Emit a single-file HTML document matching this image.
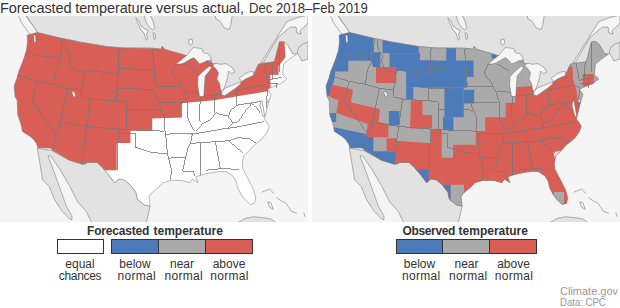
<!DOCTYPE html>
<html><head><meta charset="utf-8"><style>
html,body{margin:0;padding:0;background:#fff;width:620px;height:308px;overflow:hidden;position:relative;font-family:"Liberation Sans",sans-serif;color:#333}
.t{position:absolute;white-space:nowrap}
.box{position:absolute;box-sizing:border-box;border:1px solid #333}
.lab{position:absolute;font-size:12px;line-height:12px;text-align:center;width:60px}
</style></head><body>
<svg width="620" height="308" viewBox="0 0 620 308" style="position:absolute;left:0;top:0">
<defs><clipPath id="cl"><polygon points="27.2,35.1 37.2,32.5 60.4,38.1 80.5,42.2 106.7,46.6 124.0,48.0 152.2,48.2 161.2,49.2 162.2,46.2 164.3,49.2 174.3,52.2 179.4,53.5 187.5,56.0 200.0,57.0 214.0,64.0 228.0,66.0 225.0,75.0 223.0,89.8 223.0,91.0 232.0,89.0 242.0,82.0 246.0,76.0 253.9,74.4 258.5,64.1 274.4,61.8 279.6,41.7 283.5,41.5 287.4,44.6 292.3,53.4 296.2,54.4 289.3,59.2 283.5,64.1 282.5,74.8 286.9,78.9 281.2,83.4 267.5,89.1 271.0,94.6 268.5,102.7 266.1,112.4 264.5,118.9 265.5,121.0 266.1,121.0 269.4,126.5 267.0,132.2 262.9,137.9 256.4,143.5 254.7,144.5 249.6,150.3 243.8,156.0 242.3,163.0 242.8,169.0 247.8,178.4 253.5,189.8 255.7,197.7 254.6,203.4 250.0,204.5 244.4,198.9 241.0,194.3 237.5,187.5 236.4,181.8 233.0,176.1 226.2,171.6 219.4,171.6 212.0,172.5 203.0,174.5 195.8,176.9 198.1,182.7 192.3,179.2 189.9,182.7 181.7,180.4 171.2,180.4 163.0,182.7 158.4,187.4 151.4,193.2 149.0,196.7 150.2,206.1 144.4,204.9 137.3,199.1 136.1,192.6 130.3,184.8 124.4,179.9 118.6,178.9 114.7,182.8 108.9,175.0 104.0,169.2 97.2,162.4 86.5,162.4 86.5,163.4 82.6,164.3 69.4,160.2 52.3,150.1 50.3,148.1 37.9,147.7 36.6,143.8 33.4,139.2 29.5,136.0 22.3,131.4 21.7,126.9 19.7,120.4 17.8,115.2 17.1,100.1 15.1,97.1 14.1,86.0 17.0,78.0 18.5,72.0 21.0,66.0 24.0,58.0 26.5,50.0 27.5,42.0"/></clipPath><clipPath id="cr"><polygon points="27.2,35.1 37.2,32.5 60.4,38.1 80.5,42.2 106.7,46.6 124.0,48.0 152.2,48.2 161.2,49.2 162.2,46.2 164.3,49.2 174.3,52.2 179.4,53.5 187.5,56.0 200.0,57.0 214.0,64.0 228.0,66.0 225.0,75.0 223.0,89.8 223.0,91.0 232.0,89.0 242.0,82.0 246.0,76.0 253.9,74.4 258.5,64.1 274.4,61.8 279.6,41.7 283.5,41.5 287.4,44.6 292.3,53.4 296.2,54.4 289.3,59.2 283.5,64.1 282.5,74.8 286.9,78.9 281.2,83.4 267.5,89.1 271.0,94.6 268.5,102.7 266.1,112.4 264.5,118.9 265.5,121.0 266.1,121.0 269.4,126.5 267.0,132.2 262.9,137.9 256.4,143.5 254.7,144.5 249.6,150.3 243.8,156.0 242.3,163.0 242.8,169.0 247.8,178.4 253.5,189.8 255.7,197.7 254.6,203.4 250.0,204.5 244.4,198.9 241.0,194.3 237.5,187.5 236.4,181.8 233.0,176.1 226.2,171.6 219.4,171.6 212.0,172.5 203.0,174.5 195.8,176.9 198.1,182.7 192.3,179.2 189.9,182.7 181.7,180.4 171.2,180.4 163.0,182.7 158.4,187.4 151.4,193.2 149.0,196.7 150.2,206.1 144.4,204.9 137.3,199.1 136.1,192.6 130.3,184.8 124.4,179.9 118.6,178.9 114.7,182.8 108.9,175.0 104.0,169.2 97.2,162.4 86.5,162.4 86.5,163.4 82.6,164.3 69.4,160.2 52.3,150.1 50.3,148.1 37.9,147.7 36.6,143.8 33.4,139.2 29.5,136.0 22.3,131.4 21.7,126.9 19.7,120.4 17.8,115.2 17.1,100.1 15.1,97.1 14.1,86.0 17.0,78.0 18.5,72.0 21.0,66.0 24.0,58.0 26.5,50.0 27.5,42.0"/></clipPath>
<clipPath id="pl"><rect x="0" y="16" width="308" height="206"/></clipPath></defs>
<g clip-path="url(#pl)"><g transform="translate(0,0)"><rect x="0" y="16" width="308" height="206" fill="#f5f5f5"/><polygon points="16.5,10.0 316.0,10.0 316.0,40.0 308.0,44.0 296.2,54.4 292.3,53.4 287.4,44.6 283.5,41.5 279.6,41.7 274.4,61.8 258.5,64.1 253.9,74.4 246.0,76.0 242.0,82.0 232.0,89.0 223.0,91.0 223.0,89.8 225.0,75.0 228.0,66.0 214.0,64.0 200.0,57.0 187.5,56.0 179.4,53.5 174.3,52.2 164.3,49.2 162.2,46.2 161.2,49.2 152.2,48.2 124.0,48.0 106.7,46.6 80.5,42.2 60.4,38.1 37.2,32.5 26.0,15.0 26.0,10.0" fill="#e2e2e2" stroke="#666" stroke-width="0.5"/><polygon points="261.0,62.5 270.0,48.0 276.9,37.4 286.9,21.7 298.3,17.4 308.0,15.0 308.0,23.0 300.0,31.0 301.0,34.0 297.0,33.0 296.0,27.0 289.7,27.4 278.3,37.4 271.0,49.0 263.0,63.0" fill="#f5f5f5" stroke="#666" stroke-width="0.5"/><polygon points="299.0,47.0 303.0,44.0 308.0,42.0 308.0,59.0 302.0,61.0 297.0,52.0" fill="#e2e2e2" stroke="#666" stroke-width="0.5"/><polygon points="37.3,148.0 51.9,150.6 69.4,160.2 82.6,164.3 86.5,163.4 86.5,162.4 97.2,162.4 104.0,169.2 108.9,175.0 114.7,182.8 118.6,178.9 124.4,179.9 130.3,184.8 136.1,192.6 137.3,199.1 144.4,204.9 150.2,206.1 147.2,219.3 145.5,223.0 91.8,223.0 86.5,211.8 77.2,201.2 69.2,185.2 59.9,169.3 50.6,156.0 47.9,156.0 50.6,162.6 55.9,177.2 61.2,191.9 66.5,206.5 71.9,215.8 71.9,219.8 69.2,218.5 62.6,211.8 54.6,199.8 49.3,186.5 42.6,179.9 40.0,164.0" fill="#e2e2e2" stroke="#666" stroke-width="0.5"/><polygon points="236.9,223.0 245.0,218.5 253.3,216.8 262.0,217.5 271.0,218.9 276.5,223.0" fill="#e2e2e2" stroke="#666" stroke-width="0.5"/><polygon points="144.0,15.0 150.0,15.0 153.0,21.0 154.5,28.5 152.5,30.0 149.5,27.0 146.0,22.0" fill="#f5f5f5" stroke="#666" stroke-width="0.5"/><polygon points="189.0,39.5 192.0,39.0 192.8,43.0 190.5,45.2 188.8,43.0" fill="#f5f5f5" stroke="#666" stroke-width="0.5"/><polygon points="215.6,15.0 232.3,15.0 230.7,25.5 229.1,29.5 224.3,27.9 219.5,20.8 215.6,18.4" fill="#f5f5f5" stroke="#666" stroke-width="0.5"/><polygon points="267.6,201.8 271.0,203.0 273.1,209.3 269.5,207.0" fill="#f5f5f5" stroke="#666" stroke-width="0.5"/><polygon points="153.3,32.5 155.2,34.0 155.5,38.5 154.0,39.5 153.5,36.0" fill="#f5f5f5" stroke="#666" stroke-width="0.5"/><polygon points="135.8,18.0 139.0,21.0 141.0,26.0 145.0,29.0 148.5,30.6 146.5,34.0 147.5,38.0 146.6,40.4 145.5,38.0 144.0,33.0 141.0,30.0 138.0,24.0" fill="#f5f5f5" stroke="#666" stroke-width="0.5"/><polygon points="18.3,15.0 25.5,15.0 30.0,22.0 36.0,30.0 37.2,33.0 35.5,38.0 33.0,37.0 27.5,31.0 21.0,22.0" fill="#f5f5f5" stroke="#666" stroke-width="0.5"/><polyline points="261.5,192.3 269.7,188.9 273.7,193.6" fill="none" stroke="#666" stroke-width="0.5"/><polyline points="276.5,197.0 280.6,200.5 286.0,203.2 291.5,211.4 297.0,213.4" fill="none" stroke="#666" stroke-width="0.5"/><polyline points="303.8,212.7 305.0,216.8" fill="none" stroke="#666" stroke-width="0.5"/><g clip-path="url(#cl)"><rect x="0" y="16" width="308" height="206" fill="#ffffff"/><polygon points="0.0,16.0 279.4,16.0 279.4,41.7 284.5,41.7 285.4,57.3 278.6,66.1 278.6,74.8 270.2,75.0 270.6,87.7 269.5,90.8 256.0,93.3 237.1,96.3 214.4,100.3 200.3,101.5 183.5,103.0 181.9,104.0 181.9,117.5 152.2,118.5 152.2,130.7 130.4,130.7 130.4,143.1 116.7,143.1 116.7,170.2 100.0,170.2 100.0,240.0 0.0,240.0" fill="#d95f56"/></g><polygon points="27.2,35.1 37.2,32.5 60.4,38.1 80.5,42.2 106.7,46.6 124.0,48.0 152.2,48.2 161.2,49.2 162.2,46.2 164.3,49.2 174.3,52.2 179.4,53.5 187.5,56.0 200.0,57.0 214.0,64.0 228.0,66.0 225.0,75.0 223.0,89.8 223.0,91.0 232.0,89.0 242.0,82.0 246.0,76.0 253.9,74.4 258.5,64.1 274.4,61.8 279.6,41.7 283.5,41.5 287.4,44.6 292.3,53.4 296.2,54.4 289.3,59.2 283.5,64.1 282.5,74.8 286.9,78.9 281.2,83.4 267.5,89.1 271.0,94.6 268.5,102.7 266.1,112.4 264.5,118.9 265.5,121.0 266.1,121.0 269.4,126.5 267.0,132.2 262.9,137.9 256.4,143.5 254.7,144.5 249.6,150.3 243.8,156.0 242.3,163.0 242.8,169.0 247.8,178.4 253.5,189.8 255.7,197.7 254.6,203.4 250.0,204.5 244.4,198.9 241.0,194.3 237.5,187.5 236.4,181.8 233.0,176.1 226.2,171.6 219.4,171.6 212.0,172.5 203.0,174.5 195.8,176.9 198.1,182.7 192.3,179.2 189.9,182.7 181.7,180.4 171.2,180.4 163.0,182.7 158.4,187.4 151.4,193.2 149.0,196.7 150.2,206.1 144.4,204.9 137.3,199.1 136.1,192.6 130.3,184.8 124.4,179.9 118.6,178.9 114.7,182.8 108.9,175.0 104.0,169.2 97.2,162.4 86.5,162.4 86.5,163.4 82.6,164.3 69.4,160.2 52.3,150.1 50.3,148.1 37.9,147.7 36.6,143.8 33.4,139.2 29.5,136.0 22.3,131.4 21.7,126.9 19.7,120.4 17.8,115.2 17.1,100.1 15.1,97.1 14.1,86.0 17.0,78.0 18.5,72.0 21.0,66.0 24.0,58.0 26.5,50.0 27.5,42.0" fill="none" stroke="#777" stroke-width="0.5"/><polyline points="194.5,131.2 201.0,124.5 205.0,122.3 209.5,120.6 213.5,116.0 215.8,112.6 219.8,114.3 225.5,115.5 228.3,116.6 231.1,109.8 235.1,106.9 236.3,105.2" fill="none" stroke="#777" stroke-width="0.8" shape-rendering="crispEdges"/><polyline points="228.3,116.6 232.8,122.8 238.0,121.7 241.4,117.7 243.6,113.2 249.3,106.4 250.5,103.5" fill="none" stroke="#777" stroke-width="0.8" shape-rendering="crispEdges"/><polyline points="236.3,105.2 261.8,101.3" fill="none" stroke="#777" stroke-width="0.8" shape-rendering="crispEdges"/><polyline points="236.3,88.5 236.3,105.2" fill="none" stroke="#777" stroke-width="0.8" shape-rendering="crispEdges"/><polyline points="214.7,94.3 214.7,112.6" fill="none" stroke="#777" stroke-width="0.8" shape-rendering="crispEdges"/><polyline points="232.8,122.8 227.7,128.0" fill="none" stroke="#777" stroke-width="0.8" shape-rendering="crispEdges"/><polyline points="190.5,134.2 219.8,129.3 234.0,127.5 264.1,121.7" fill="none" stroke="#777" stroke-width="0.8" shape-rendering="crispEdges"/><polyline points="250.5,103.5 254.0,106.0 257.0,108.0 260.0,113.0" fill="none" stroke="#777" stroke-width="0.8" shape-rendering="crispEdges"/><polyline points="27.2,48.1 32.2,53.1 35.2,55.2 54.3,57.2 60.4,59.2" fill="none" stroke="#777" stroke-width="0.8" shape-rendering="crispEdges"/><polyline points="62.4,37.5 60.4,59.2" fill="none" stroke="#777" stroke-width="0.8" shape-rendering="crispEdges"/><polyline points="60.4,59.2 58.4,64.2 55.4,70.3 53.3,84.3" fill="none" stroke="#777" stroke-width="0.8" shape-rendering="crispEdges"/><polyline points="65.4,39.5 66.4,50.1 70.5,56.2 69.4,62.2 74.5,71.3 83.5,72.3 85.5,70.3" fill="none" stroke="#777" stroke-width="0.8" shape-rendering="crispEdges"/><polyline points="85.5,70.3 118.8,74.3" fill="none" stroke="#777" stroke-width="0.8" shape-rendering="crispEdges"/><polyline points="84.5,71.3 81.5,90.1" fill="none" stroke="#777" stroke-width="0.8" shape-rendering="crispEdges"/><polyline points="17.1,75.3 37.2,81.3 53.3,84.3 66.4,88.1 81.5,90.1" fill="none" stroke="#777" stroke-width="0.8" shape-rendering="crispEdges"/><polyline points="37.2,81.3 32.2,101.1 55.4,133.3 56.4,140.4 52.3,150.1" fill="none" stroke="#777" stroke-width="0.8" shape-rendering="crispEdges"/><polyline points="67.4,88.6 60.4,122.3 60.4,127.0 55.4,133.3" fill="none" stroke="#777" stroke-width="0.8" shape-rendering="crispEdges"/><polyline points="60.4,122.3 85.5,126.3 118.8,129.3 164.3,131.2" fill="none" stroke="#777" stroke-width="0.8" shape-rendering="crispEdges"/><polyline points="81.5,90.1 81.5,97.1 90.6,99.1 126.1,101.5" fill="none" stroke="#777" stroke-width="0.8" shape-rendering="crispEdges"/><polyline points="90.6,99.1 86.6,126.3 84.5,142.0 82.6,164.3" fill="none" stroke="#777" stroke-width="0.8" shape-rendering="crispEdges"/><polyline points="119.1,48.1 118.1,72.2 117.0,88.3 116.5,101.2" fill="none" stroke="#777" stroke-width="0.8" shape-rendering="crispEdges"/><polyline points="126.1,101.5 126.1,130.2" fill="none" stroke="#777" stroke-width="0.8" shape-rendering="crispEdges"/><polyline points="126.1,109.1 161.3,110.1" fill="none" stroke="#777" stroke-width="0.8" shape-rendering="crispEdges"/><polyline points="119.0,129.5 118.0,143.0 117.0,170.2" fill="none" stroke="#777" stroke-width="0.8" shape-rendering="crispEdges"/><polyline points="118.5,133.2 135.3,133.2 135.3,147.0 142.2,149.3 150.4,152.1 167.5,154.1" fill="none" stroke="#777" stroke-width="0.8" shape-rendering="crispEdges"/><polyline points="165.4,131.2 167.5,154.1" fill="none" stroke="#777" stroke-width="0.8" shape-rendering="crispEdges"/><polyline points="167.5,154.1 168.5,158.1 171.5,170.2 170.5,180.3" fill="none" stroke="#777" stroke-width="0.8" shape-rendering="crispEdges"/><polyline points="168.5,158.1 185.6,157.1" fill="none" stroke="#777" stroke-width="0.8" shape-rendering="crispEdges"/><polyline points="185.6,157.1 182.6,171.2 193.7,171.2 194.7,176.2" fill="none" stroke="#777" stroke-width="0.8" shape-rendering="crispEdges"/><polyline points="201.0,143.0 200.7,175.2" fill="none" stroke="#777" stroke-width="0.8" shape-rendering="crispEdges"/><polyline points="215.5,141.5 220.5,168.2" fill="none" stroke="#777" stroke-width="0.8" shape-rendering="crispEdges"/><polyline points="206.4,170.2 220.5,168.8 238.6,169.2" fill="none" stroke="#777" stroke-width="0.8" shape-rendering="crispEdges"/><polyline points="227.5,140.8 242.6,153.3" fill="none" stroke="#777" stroke-width="0.8" shape-rendering="crispEdges"/><polyline points="190.5,143.3 227.5,140.8" fill="none" stroke="#777" stroke-width="0.8" shape-rendering="crispEdges"/><polyline points="227.5,140.8 237.7,137.5 249.1,138.7 256.4,143.5" fill="none" stroke="#777" stroke-width="0.8" shape-rendering="crispEdges"/><polyline points="165.4,134.2 189.5,133.2 192.5,134.2" fill="none" stroke="#777" stroke-width="0.8" shape-rendering="crispEdges"/><polyline points="192.5,134.2 190.5,143.3 188.5,146.3 185.6,157.1" fill="none" stroke="#777" stroke-width="0.8" shape-rendering="crispEdges"/><polyline points="161.3,110.1 164.3,117.1 164.3,131.2" fill="none" stroke="#777" stroke-width="0.8" shape-rendering="crispEdges"/><polyline points="159.0,103.0 185.5,102.0" fill="none" stroke="#777" stroke-width="0.8" shape-rendering="crispEdges"/><polyline points="155.3,92.3 158.3,102.0 161.3,110.1" fill="none" stroke="#777" stroke-width="0.8" shape-rendering="crispEdges"/><polyline points="117.0,88.3 150.3,89.3 155.3,92.3" fill="none" stroke="#777" stroke-width="0.8" shape-rendering="crispEdges"/><polyline points="118.1,68.2 154.3,70.2" fill="none" stroke="#777" stroke-width="0.8" shape-rendering="crispEdges"/><polyline points="152.3,49.1 153.3,58.1 154.3,70.2 155.3,86.3" fill="none" stroke="#777" stroke-width="0.8" shape-rendering="crispEdges"/><polyline points="155.3,86.3 180.5,86.3" fill="none" stroke="#777" stroke-width="0.8" shape-rendering="crispEdges"/><polyline points="176.4,64.2 172.4,72.2 174.4,77.2 179.4,82.3 180.5,86.3" fill="none" stroke="#777" stroke-width="0.8" shape-rendering="crispEdges"/><polyline points="180.5,86.3 184.5,92.3 185.5,98.4 187.5,102.0 187.5,117.1 191.5,126.2 194.5,131.2" fill="none" stroke="#777" stroke-width="0.8" shape-rendering="crispEdges"/><polyline points="184.5,64.2 196.6,71.2" fill="none" stroke="#777" stroke-width="0.8" shape-rendering="crispEdges"/><polyline points="184.5,91.3 198.6,92.3" fill="none" stroke="#777" stroke-width="0.8" shape-rendering="crispEdges"/><polyline points="200.6,96.4 200.1,100.0 199.6,120.1 201.1,122.3" fill="none" stroke="#777" stroke-width="0.8" shape-rendering="crispEdges"/><polyline points="200.6,96.4 220.7,94.3" fill="none" stroke="#777" stroke-width="0.8" shape-rendering="crispEdges"/><polyline points="236.3,90.0 262.2,85.3 268.2,88.3" fill="none" stroke="#777" stroke-width="0.8" shape-rendering="crispEdges"/><polyline points="266.5,99.1 267.0,108.0" fill="none" stroke="#777" stroke-width="0.8" shape-rendering="crispEdges"/><polyline points="268.2,88.3 266.5,99.1" fill="none" stroke="#777" stroke-width="0.8" shape-rendering="crispEdges"/><polyline points="264.2,63.1 267.2,80.3" fill="none" stroke="#777" stroke-width="0.8" shape-rendering="crispEdges"/><polyline points="273.2,62.1 272.2,79.3" fill="none" stroke="#777" stroke-width="0.8" shape-rendering="crispEdges"/><polyline points="279.3,43.0 279.3,72.2" fill="none" stroke="#777" stroke-width="0.8" shape-rendering="crispEdges"/><polyline points="267.2,80.3 282.3,77.2" fill="none" stroke="#777" stroke-width="0.8" shape-rendering="crispEdges"/><polyline points="268.2,83.3 278.3,83.3" fill="none" stroke="#777" stroke-width="0.8" shape-rendering="crispEdges"/><polyline points="276.0,83.3 276.0,88.0" fill="none" stroke="#777" stroke-width="0.8" shape-rendering="crispEdges"/><polygon points="175.8,64.1 181.7,59.4 187.5,54.7 193.2,47.5 201.5,48.4 203.5,52.8 208.3,53.8 210.8,57.7 211.3,63.0 210.8,60.1 207.4,60.6 203.5,62.5 199.6,64.0 196.7,60.6 193.7,57.7 189.8,59.6 184.0,63.0 180.5,64.1" fill="#f5f5f5" stroke="#666" stroke-width="0.5"/><polygon points="209.0,66.3 203.1,71.2 198.0,76.5 197.5,84.8 199.5,96.5 203.8,96.5 204.5,86.0 205.2,76.0 209.5,71.0 212.0,67.0" fill="#f5f5f5" stroke="#666" stroke-width="0.5"/><polygon points="212.5,64.8 216.0,63.4 220.7,64.2 226.0,63.6 232.2,67.5 235.0,72.0 231.2,73.7 228.5,71.0 227.8,76.0 225.8,84.0 223.0,90.5 221.7,91.5 220.3,88.7 219.7,83.9 218.0,81.0 216.8,79.0 218.5,73.1 215.8,68.5 213.9,67.3" fill="#f5f5f5" stroke="#666" stroke-width="0.5"/><polygon points="221.6,91.8 225.5,87.9 232.0,85.3 238.5,82.7 241.1,81.4 240.5,84.0 235.3,88.6 229.4,92.5 224.9,95.7 221.6,95.1" fill="#f5f5f5" stroke="#666" stroke-width="0.5"/><polygon points="239.2,78.2 244.4,74.3 249.6,71.7 253.5,71.7 253.5,75.6 247.0,78.2 241.8,81.4" fill="#f5f5f5" stroke="#666" stroke-width="0.5"/><polygon points="260.5,101.0 262.0,101.0 263.0,106.0 264.0,112.0 264.8,116.5 262.8,116.5 261.5,111.0 260.0,106.0" fill="#f5f5f5" stroke="#666" stroke-width="0.5"/><polygon points="266.5,99.0 268.5,100.5 267.5,103.0 266.0,101.0" fill="#f5f5f5" stroke="#666" stroke-width="0.5"/><polygon points="33.5,35.0 35.5,35.0 36.0,41.0 34.5,44.0 33.8,40.0" fill="#f5f5f5" stroke="#666" stroke-width="0.5"/><polygon points="71.8,91.8 73.5,91.2 75.2,93.8 75.6,97.0 73.8,96.8 72.6,94.5" fill="#f5f5f5" stroke="#666" stroke-width="0.5"/></g></g>
<g clip-path="url(#pl)" transform="translate(312,0)"><g transform="translate(-312,0)"><g transform="translate(312,0)"><rect x="0" y="16" width="308" height="206" fill="#f5f5f5"/><polygon points="16.5,10.0 316.0,10.0 316.0,40.0 308.0,44.0 296.2,54.4 292.3,53.4 287.4,44.6 283.5,41.5 279.6,41.7 274.4,61.8 258.5,64.1 253.9,74.4 246.0,76.0 242.0,82.0 232.0,89.0 223.0,91.0 223.0,89.8 225.0,75.0 228.0,66.0 214.0,64.0 200.0,57.0 187.5,56.0 179.4,53.5 174.3,52.2 164.3,49.2 162.2,46.2 161.2,49.2 152.2,48.2 124.0,48.0 106.7,46.6 80.5,42.2 60.4,38.1 37.2,32.5 26.0,15.0 26.0,10.0" fill="#e2e2e2" stroke="#666" stroke-width="0.5"/><polygon points="261.0,62.5 270.0,48.0 276.9,37.4 286.9,21.7 298.3,17.4 308.0,15.0 308.0,23.0 300.0,31.0 301.0,34.0 297.0,33.0 296.0,27.0 289.7,27.4 278.3,37.4 271.0,49.0 263.0,63.0" fill="#f5f5f5" stroke="#666" stroke-width="0.5"/><polygon points="299.0,47.0 303.0,44.0 308.0,42.0 308.0,59.0 302.0,61.0 297.0,52.0" fill="#e2e2e2" stroke="#666" stroke-width="0.5"/><polygon points="37.3,148.0 51.9,150.6 69.4,160.2 82.6,164.3 86.5,163.4 86.5,162.4 97.2,162.4 104.0,169.2 108.9,175.0 114.7,182.8 118.6,178.9 124.4,179.9 130.3,184.8 136.1,192.6 137.3,199.1 144.4,204.9 150.2,206.1 147.2,219.3 145.5,223.0 91.8,223.0 86.5,211.8 77.2,201.2 69.2,185.2 59.9,169.3 50.6,156.0 47.9,156.0 50.6,162.6 55.9,177.2 61.2,191.9 66.5,206.5 71.9,215.8 71.9,219.8 69.2,218.5 62.6,211.8 54.6,199.8 49.3,186.5 42.6,179.9 40.0,164.0" fill="#e2e2e2" stroke="#666" stroke-width="0.5"/><polygon points="236.9,223.0 245.0,218.5 253.3,216.8 262.0,217.5 271.0,218.9 276.5,223.0" fill="#e2e2e2" stroke="#666" stroke-width="0.5"/><polygon points="144.0,15.0 150.0,15.0 153.0,21.0 154.5,28.5 152.5,30.0 149.5,27.0 146.0,22.0" fill="#f5f5f5" stroke="#666" stroke-width="0.5"/><polygon points="189.0,39.5 192.0,39.0 192.8,43.0 190.5,45.2 188.8,43.0" fill="#f5f5f5" stroke="#666" stroke-width="0.5"/><polygon points="215.6,15.0 232.3,15.0 230.7,25.5 229.1,29.5 224.3,27.9 219.5,20.8 215.6,18.4" fill="#f5f5f5" stroke="#666" stroke-width="0.5"/><polygon points="267.6,201.8 271.0,203.0 273.1,209.3 269.5,207.0" fill="#f5f5f5" stroke="#666" stroke-width="0.5"/><polygon points="153.3,32.5 155.2,34.0 155.5,38.5 154.0,39.5 153.5,36.0" fill="#f5f5f5" stroke="#666" stroke-width="0.5"/><polygon points="135.8,18.0 139.0,21.0 141.0,26.0 145.0,29.0 148.5,30.6 146.5,34.0 147.5,38.0 146.6,40.4 145.5,38.0 144.0,33.0 141.0,30.0 138.0,24.0" fill="#f5f5f5" stroke="#666" stroke-width="0.5"/><polygon points="18.3,15.0 25.5,15.0 30.0,22.0 36.0,30.0 37.2,33.0 35.5,38.0 33.0,37.0 27.5,31.0 21.0,22.0" fill="#f5f5f5" stroke="#666" stroke-width="0.5"/><polyline points="261.5,192.3 269.7,188.9 273.7,193.6" fill="none" stroke="#666" stroke-width="0.5"/><polyline points="276.5,197.0 280.6,200.5 286.0,203.2 291.5,211.4 297.0,213.4" fill="none" stroke="#666" stroke-width="0.5"/><polyline points="303.8,212.7 305.0,216.8" fill="none" stroke="#666" stroke-width="0.5"/><g clip-path="url(#cr)"><rect x="0" y="16" width="308" height="206" fill="#aaaaaa"/><polygon points="0.0,16.0 61.4,16.0 61.4,52.2 59.4,52.2 59.4,60.7 36.2,60.7 36.2,71.4 23.1,71.4 22.7,78.0 17.6,95.7 0.0,96.4" fill="#4d7bba"/><polygon points="59.4,52.2 68.4,52.2 68.4,67.0 61.0,67.0 59.4,60.7" fill="#4d7bba"/><polygon points="70.5,16.0 106.7,16.0 106.7,53.2 70.5,53.2" fill="#4d7bba"/><polygon points="77.5,53.2 108.0,53.2 108.0,71.0 77.5,71.0" fill="#4d7bba"/><polygon points="106.7,60.5 124.0,60.5 124.0,78.0 106.7,78.0" fill="#4d7bba"/><polygon points="134.3,16.0 144.0,16.0 144.0,62.4 134.3,62.4" fill="#4d7bba"/><polygon points="108.0,60.5 161.6,60.5 161.6,77.0 108.0,77.0" fill="#4d7bba"/><polygon points="108.0,77.0 154.8,77.0 154.8,87.7 108.0,87.7" fill="#4d7bba"/><polygon points="132.4,87.7 151.8,87.7 151.8,117.3 132.4,117.3" fill="#4d7bba"/><polygon points="131.0,117.3 141.4,117.3 141.4,130.2 131.0,130.2" fill="#4d7bba"/><polygon points="151.8,89.7 162.2,89.7 162.2,103.6 151.8,103.6" fill="#4d7bba"/><polygon points="94.2,71.0 118.4,71.0 118.4,87.2 94.2,87.2" fill="#4d7bba"/><polygon points="94.2,87.2 101.3,87.2 101.3,99.3 94.2,99.3" fill="#4d7bba"/><polygon points="179.4,54.2 184.4,54.2 184.4,58.3 179.4,58.3" fill="#4d7bba"/><polygon points="10.0,113.1 24.2,113.1 24.2,122.1 10.0,122.1" fill="#4d7bba"/><polygon points="10.0,127.2 22.1,127.2 55.4,134.2 61.4,136.0 61.4,151.3 83.4,151.3 83.4,175.0 10.0,175.0" fill="#4d7bba"/><polygon points="76.9,111.1 87.5,111.1 87.5,125.3 76.9,125.3" fill="#4d7bba"/><polygon points="64.0,67.0 84.1,67.0 84.1,83.1 64.0,83.1" fill="#d95f56"/><polygon points="18.9,84.3 41.0,89.4 39.0,102.5 67.9,109.0 66.6,122.0 76.3,123.9 76.3,137.2 54.3,137.2 55.6,123.9 24.4,112.9 26.5,100.2 17.6,97.0" fill="#d95f56"/><polygon points="99.0,100.3 110.5,100.3 110.5,115.1 120.0,115.1 120.0,128.6 98.0,128.6" fill="#d95f56"/><polygon points="74.5,138.3 85.0,138.3 85.0,151.3 74.5,151.3" fill="#d95f56"/><polygon points="83.4,140.7 119.1,143.2 119.1,129.4 129.7,129.4 129.7,157.8 141.0,157.8 141.0,144.8 163.8,144.8 163.8,131.0 173.2,131.0 173.2,117.3 193.5,117.3 193.5,102.7 203.2,102.7 203.2,87.3 220.9,86.0 220.9,78.2 226.0,80.0 240.0,80.0 256.6,66.0 260.6,67.0 261.2,80.0 264.5,89.7 266.1,102.7 280.0,103.0 300.0,160.0 300.0,230.0 83.4,230.0" fill="#d95f56"/><polygon points="270.7,74.1 281.7,74.1 281.7,86.2 270.7,86.2" fill="#d95f56"/><polygon points="138.5,184.8 152.0,184.8 152.0,207.0 138.5,207.0" fill="#aaaaaa"/><polygon points="242.1,192.0 252.0,192.0 252.0,204.0 242.1,204.0" fill="#aaaaaa"/><polygon points="241.5,151.9 250.5,150.6 244.0,156.5 242.8,159.0" fill="#dddddd"/><polygon points="104.0,169.2 116.7,169.2 116.7,183.8 104.0,183.8" fill="#4d7bba"/><polygon points="129.2,184.8 138.5,184.8 138.5,199.0 129.2,199.0" fill="#4d7bba"/></g><polygon points="27.2,35.1 37.2,32.5 60.4,38.1 80.5,42.2 106.7,46.6 124.0,48.0 152.2,48.2 161.2,49.2 162.2,46.2 164.3,49.2 174.3,52.2 179.4,53.5 187.5,56.0 200.0,57.0 214.0,64.0 228.0,66.0 225.0,75.0 223.0,89.8 223.0,91.0 232.0,89.0 242.0,82.0 246.0,76.0 253.9,74.4 258.5,64.1 274.4,61.8 279.6,41.7 283.5,41.5 287.4,44.6 292.3,53.4 296.2,54.4 289.3,59.2 283.5,64.1 282.5,74.8 286.9,78.9 281.2,83.4 267.5,89.1 271.0,94.6 268.5,102.7 266.1,112.4 264.5,118.9 265.5,121.0 266.1,121.0 269.4,126.5 267.0,132.2 262.9,137.9 256.4,143.5 254.7,144.5 249.6,150.3 243.8,156.0 242.3,163.0 242.8,169.0 247.8,178.4 253.5,189.8 255.7,197.7 254.6,203.4 250.0,204.5 244.4,198.9 241.0,194.3 237.5,187.5 236.4,181.8 233.0,176.1 226.2,171.6 219.4,171.6 212.0,172.5 203.0,174.5 195.8,176.9 198.1,182.7 192.3,179.2 189.9,182.7 181.7,180.4 171.2,180.4 163.0,182.7 158.4,187.4 151.4,193.2 149.0,196.7 150.2,206.1 144.4,204.9 137.3,199.1 136.1,192.6 130.3,184.8 124.4,179.9 118.6,178.9 114.7,182.8 108.9,175.0 104.0,169.2 97.2,162.4 86.5,162.4 86.5,163.4 82.6,164.3 69.4,160.2 52.3,150.1 50.3,148.1 37.9,147.7 36.6,143.8 33.4,139.2 29.5,136.0 22.3,131.4 21.7,126.9 19.7,120.4 17.8,115.2 17.1,100.1 15.1,97.1 14.1,86.0 17.0,78.0 18.5,72.0 21.0,66.0 24.0,58.0 26.5,50.0 27.5,42.0" fill="none" stroke="#777" stroke-width="0.5"/><polyline points="194.5,131.2 201.0,124.5 205.0,122.3 209.5,120.6 213.5,116.0 215.8,112.6 219.8,114.3 225.5,115.5 228.3,116.6 231.1,109.8 235.1,106.9 236.3,105.2" fill="none" stroke="#777" stroke-width="0.8" shape-rendering="crispEdges"/><polyline points="228.3,116.6 232.8,122.8 238.0,121.7 241.4,117.7 243.6,113.2 249.3,106.4 250.5,103.5" fill="none" stroke="#777" stroke-width="0.8" shape-rendering="crispEdges"/><polyline points="236.3,105.2 261.8,101.3" fill="none" stroke="#777" stroke-width="0.8" shape-rendering="crispEdges"/><polyline points="236.3,88.5 236.3,105.2" fill="none" stroke="#777" stroke-width="0.8" shape-rendering="crispEdges"/><polyline points="214.7,94.3 214.7,112.6" fill="none" stroke="#777" stroke-width="0.8" shape-rendering="crispEdges"/><polyline points="232.8,122.8 227.7,128.0" fill="none" stroke="#777" stroke-width="0.8" shape-rendering="crispEdges"/><polyline points="190.5,134.2 219.8,129.3 234.0,127.5 264.1,121.7" fill="none" stroke="#777" stroke-width="0.8" shape-rendering="crispEdges"/><polyline points="250.5,103.5 254.0,106.0 257.0,108.0 260.0,113.0" fill="none" stroke="#777" stroke-width="0.8" shape-rendering="crispEdges"/><polyline points="27.2,48.1 32.2,53.1 35.2,55.2 54.3,57.2 60.4,59.2" fill="none" stroke="#777" stroke-width="0.8" shape-rendering="crispEdges"/><polyline points="62.4,37.5 60.4,59.2" fill="none" stroke="#777" stroke-width="0.8" shape-rendering="crispEdges"/><polyline points="60.4,59.2 58.4,64.2 55.4,70.3 53.3,84.3" fill="none" stroke="#777" stroke-width="0.8" shape-rendering="crispEdges"/><polyline points="65.4,39.5 66.4,50.1 70.5,56.2 69.4,62.2 74.5,71.3 83.5,72.3 85.5,70.3" fill="none" stroke="#777" stroke-width="0.8" shape-rendering="crispEdges"/><polyline points="85.5,70.3 118.8,74.3" fill="none" stroke="#777" stroke-width="0.8" shape-rendering="crispEdges"/><polyline points="84.5,71.3 81.5,90.1" fill="none" stroke="#777" stroke-width="0.8" shape-rendering="crispEdges"/><polyline points="17.1,75.3 37.2,81.3 53.3,84.3 66.4,88.1 81.5,90.1" fill="none" stroke="#777" stroke-width="0.8" shape-rendering="crispEdges"/><polyline points="37.2,81.3 32.2,101.1 55.4,133.3 56.4,140.4 52.3,150.1" fill="none" stroke="#777" stroke-width="0.8" shape-rendering="crispEdges"/><polyline points="67.4,88.6 60.4,122.3 60.4,127.0 55.4,133.3" fill="none" stroke="#777" stroke-width="0.8" shape-rendering="crispEdges"/><polyline points="60.4,122.3 85.5,126.3 118.8,129.3 164.3,131.2" fill="none" stroke="#777" stroke-width="0.8" shape-rendering="crispEdges"/><polyline points="81.5,90.1 81.5,97.1 90.6,99.1 126.1,101.5" fill="none" stroke="#777" stroke-width="0.8" shape-rendering="crispEdges"/><polyline points="90.6,99.1 86.6,126.3 84.5,142.0 82.6,164.3" fill="none" stroke="#777" stroke-width="0.8" shape-rendering="crispEdges"/><polyline points="119.1,48.1 118.1,72.2 117.0,88.3 116.5,101.2" fill="none" stroke="#777" stroke-width="0.8" shape-rendering="crispEdges"/><polyline points="126.1,101.5 126.1,130.2" fill="none" stroke="#777" stroke-width="0.8" shape-rendering="crispEdges"/><polyline points="126.1,109.1 161.3,110.1" fill="none" stroke="#777" stroke-width="0.8" shape-rendering="crispEdges"/><polyline points="119.0,129.5 118.0,143.0 117.0,170.2" fill="none" stroke="#777" stroke-width="0.8" shape-rendering="crispEdges"/><polyline points="118.5,133.2 135.3,133.2 135.3,147.0 142.2,149.3 150.4,152.1 167.5,154.1" fill="none" stroke="#777" stroke-width="0.8" shape-rendering="crispEdges"/><polyline points="165.4,131.2 167.5,154.1" fill="none" stroke="#777" stroke-width="0.8" shape-rendering="crispEdges"/><polyline points="167.5,154.1 168.5,158.1 171.5,170.2 170.5,180.3" fill="none" stroke="#777" stroke-width="0.8" shape-rendering="crispEdges"/><polyline points="168.5,158.1 185.6,157.1" fill="none" stroke="#777" stroke-width="0.8" shape-rendering="crispEdges"/><polyline points="185.6,157.1 182.6,171.2 193.7,171.2 194.7,176.2" fill="none" stroke="#777" stroke-width="0.8" shape-rendering="crispEdges"/><polyline points="201.0,143.0 200.7,175.2" fill="none" stroke="#777" stroke-width="0.8" shape-rendering="crispEdges"/><polyline points="215.5,141.5 220.5,168.2" fill="none" stroke="#777" stroke-width="0.8" shape-rendering="crispEdges"/><polyline points="206.4,170.2 220.5,168.8 238.6,169.2" fill="none" stroke="#777" stroke-width="0.8" shape-rendering="crispEdges"/><polyline points="227.5,140.8 242.6,153.3" fill="none" stroke="#777" stroke-width="0.8" shape-rendering="crispEdges"/><polyline points="190.5,143.3 227.5,140.8" fill="none" stroke="#777" stroke-width="0.8" shape-rendering="crispEdges"/><polyline points="227.5,140.8 237.7,137.5 249.1,138.7 256.4,143.5" fill="none" stroke="#777" stroke-width="0.8" shape-rendering="crispEdges"/><polyline points="165.4,134.2 189.5,133.2 192.5,134.2" fill="none" stroke="#777" stroke-width="0.8" shape-rendering="crispEdges"/><polyline points="192.5,134.2 190.5,143.3 188.5,146.3 185.6,157.1" fill="none" stroke="#777" stroke-width="0.8" shape-rendering="crispEdges"/><polyline points="161.3,110.1 164.3,117.1 164.3,131.2" fill="none" stroke="#777" stroke-width="0.8" shape-rendering="crispEdges"/><polyline points="159.0,103.0 185.5,102.0" fill="none" stroke="#777" stroke-width="0.8" shape-rendering="crispEdges"/><polyline points="155.3,92.3 158.3,102.0 161.3,110.1" fill="none" stroke="#777" stroke-width="0.8" shape-rendering="crispEdges"/><polyline points="117.0,88.3 150.3,89.3 155.3,92.3" fill="none" stroke="#777" stroke-width="0.8" shape-rendering="crispEdges"/><polyline points="118.1,68.2 154.3,70.2" fill="none" stroke="#777" stroke-width="0.8" shape-rendering="crispEdges"/><polyline points="152.3,49.1 153.3,58.1 154.3,70.2 155.3,86.3" fill="none" stroke="#777" stroke-width="0.8" shape-rendering="crispEdges"/><polyline points="155.3,86.3 180.5,86.3" fill="none" stroke="#777" stroke-width="0.8" shape-rendering="crispEdges"/><polyline points="176.4,64.2 172.4,72.2 174.4,77.2 179.4,82.3 180.5,86.3" fill="none" stroke="#777" stroke-width="0.8" shape-rendering="crispEdges"/><polyline points="180.5,86.3 184.5,92.3 185.5,98.4 187.5,102.0 187.5,117.1 191.5,126.2 194.5,131.2" fill="none" stroke="#777" stroke-width="0.8" shape-rendering="crispEdges"/><polyline points="184.5,64.2 196.6,71.2" fill="none" stroke="#777" stroke-width="0.8" shape-rendering="crispEdges"/><polyline points="184.5,91.3 198.6,92.3" fill="none" stroke="#777" stroke-width="0.8" shape-rendering="crispEdges"/><polyline points="200.6,96.4 200.1,100.0 199.6,120.1 201.1,122.3" fill="none" stroke="#777" stroke-width="0.8" shape-rendering="crispEdges"/><polyline points="200.6,96.4 220.7,94.3" fill="none" stroke="#777" stroke-width="0.8" shape-rendering="crispEdges"/><polyline points="236.3,90.0 262.2,85.3 268.2,88.3" fill="none" stroke="#777" stroke-width="0.8" shape-rendering="crispEdges"/><polyline points="266.5,99.1 267.0,108.0" fill="none" stroke="#777" stroke-width="0.8" shape-rendering="crispEdges"/><polyline points="268.2,88.3 266.5,99.1" fill="none" stroke="#777" stroke-width="0.8" shape-rendering="crispEdges"/><polyline points="264.2,63.1 267.2,80.3" fill="none" stroke="#777" stroke-width="0.8" shape-rendering="crispEdges"/><polyline points="273.2,62.1 272.2,79.3" fill="none" stroke="#777" stroke-width="0.8" shape-rendering="crispEdges"/><polyline points="279.3,43.0 279.3,72.2" fill="none" stroke="#777" stroke-width="0.8" shape-rendering="crispEdges"/><polyline points="267.2,80.3 282.3,77.2" fill="none" stroke="#777" stroke-width="0.8" shape-rendering="crispEdges"/><polyline points="268.2,83.3 278.3,83.3" fill="none" stroke="#777" stroke-width="0.8" shape-rendering="crispEdges"/><polyline points="276.0,83.3 276.0,88.0" fill="none" stroke="#777" stroke-width="0.8" shape-rendering="crispEdges"/><polygon points="175.8,64.1 181.7,59.4 187.5,54.7 193.2,47.5 201.5,48.4 203.5,52.8 208.3,53.8 210.8,57.7 211.3,63.0 210.8,60.1 207.4,60.6 203.5,62.5 199.6,64.0 196.7,60.6 193.7,57.7 189.8,59.6 184.0,63.0 180.5,64.1" fill="#f5f5f5" stroke="#666" stroke-width="0.5"/><polygon points="209.0,66.3 203.1,71.2 198.0,76.5 197.5,84.8 199.5,96.5 203.8,96.5 204.5,86.0 205.2,76.0 209.5,71.0 212.0,67.0" fill="#f5f5f5" stroke="#666" stroke-width="0.5"/><polygon points="212.5,64.8 216.0,63.4 220.7,64.2 226.0,63.6 232.2,67.5 235.0,72.0 231.2,73.7 228.5,71.0 227.8,76.0 225.8,84.0 223.0,90.5 221.7,91.5 220.3,88.7 219.7,83.9 218.0,81.0 216.8,79.0 218.5,73.1 215.8,68.5 213.9,67.3" fill="#f5f5f5" stroke="#666" stroke-width="0.5"/><polygon points="221.6,91.8 225.5,87.9 232.0,85.3 238.5,82.7 241.1,81.4 240.5,84.0 235.3,88.6 229.4,92.5 224.9,95.7 221.6,95.1" fill="#f5f5f5" stroke="#666" stroke-width="0.5"/><polygon points="239.2,78.2 244.4,74.3 249.6,71.7 253.5,71.7 253.5,75.6 247.0,78.2 241.8,81.4" fill="#f5f5f5" stroke="#666" stroke-width="0.5"/><polygon points="260.5,101.0 262.0,101.0 263.0,106.0 264.0,112.0 264.8,116.5 262.8,116.5 261.5,111.0 260.0,106.0" fill="#f5f5f5" stroke="#666" stroke-width="0.5"/><polygon points="266.5,99.0 268.5,100.5 267.5,103.0 266.0,101.0" fill="#f5f5f5" stroke="#666" stroke-width="0.5"/><polygon points="33.5,35.0 35.5,35.0 36.0,41.0 34.5,44.0 33.8,40.0" fill="#f5f5f5" stroke="#666" stroke-width="0.5"/><polygon points="71.8,91.8 73.5,91.2 75.2,93.8 75.6,97.0 73.8,96.8 72.6,94.5" fill="#f5f5f5" stroke="#666" stroke-width="0.5"/></g></g></g>
</svg>
<div class="t" style="left:0px;top:0px;font-size:14.5px;letter-spacing:-0.12px">Forecasted temperature versus actual,</div><div class="t" style="left:249.2px;top:0px;font-size:14.5px;transform:scaleX(0.903);transform-origin:0 0">Dec 2018–Feb 2019</div>
<div class="t" style="left:87px;top:224px;font-size:12px;font-weight:bold;letter-spacing:-0.2px">Forecasted</div><div class="t" style="left:153.5px;top:224px;font-size:12px;font-weight:bold">temperature</div>
<div class="box" style="left:57px;top:239px;width:47px;height:15px;background:#fff"></div>
<div class="box" style="left:111px;top:239px;width:142px;height:15px;background:#aaaaaa">
  <div style="position:absolute;left:0;top:0;width:46px;height:13px;background:#4d7bba;border-right:1px solid #333"></div>
  <div style="position:absolute;left:93px;top:0;width:46px;height:13px;background:#d95f56;border-left:1px solid #333"></div>
</div>
<div class="lab" style="left:50px;top:257.5px">equal<br><span style="letter-spacing:-0.3px">chances</span></div>
<div class="lab" style="left:105px;top:257.5px">below<br><span style="letter-spacing:0.3px;position:relative;left:1.8px">normal</span></div>
<div class="lab" style="left:152px;top:257.5px">near<br><span style="letter-spacing:0.3px;position:relative;left:1.8px">normal</span></div>
<div class="lab" style="left:199px;top:257.5px">above<br><span style="letter-spacing:0.3px;position:relative;left:0.5px">normal</span></div>
<div class="t" style="left:402.5px;top:224px;font-size:12px;font-weight:bold;letter-spacing:-0.35px">Observed</div><div class="t" style="left:458.6px;top:224px;font-size:12px;font-weight:bold">temperature</div>
<div class="box" style="left:396px;top:239px;width:141px;height:15px;background:#aaaaaa">
  <div style="position:absolute;left:0;top:0;width:45px;height:13px;background:#4d7bba;border-right:1px solid #333"></div>
  <div style="position:absolute;left:92px;top:0;width:46px;height:13px;background:#d95f56;border-left:1px solid #333"></div>
</div>
<div class="lab" style="left:389.5px;top:257.5px">below<br><span style="letter-spacing:0.3px;position:relative;left:1.8px">normal</span></div>
<div class="lab" style="left:436.5px;top:257.5px">near<br><span style="letter-spacing:0.3px;position:relative;left:1.8px">normal</span></div>
<div class="lab" style="left:483.5px;top:257.5px">above<br><span style="letter-spacing:0.3px;position:relative;left:0.5px">normal</span></div>
<div class="t" style="left:560px;top:285.5px;font-size:11px;line-height:11.3px;color:#999">Climate.gov</div><div class="t" style="left:560px;top:296.8px;font-size:11px;line-height:11.3px;color:#999;transform:scaleX(0.87);transform-origin:0 0">Data: CPC</div>
</body></html>
